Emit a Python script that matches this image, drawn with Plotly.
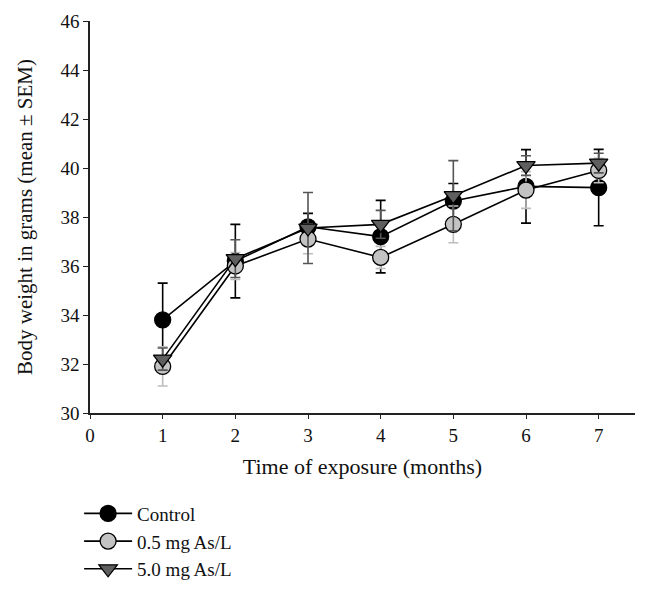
import plotly.graph_objects as go

months = [1, 2, 3, 4, 5, 6, 7]
series_names = ["Control", "0.5 mg As/L", "5.0 mg As/L"]
control_mean = [33.8, 36.2, 37.6, 37.2, 38.65, 39.25, 39.2]
control_sem = [1.5, 1.5, 0.55, 1.48, 0.72, 1.5, 1.56]
low_mean = [31.9, 36.0, 37.1, 36.35, 37.7, 39.1, 39.9]
low_sem = [0.8, 0.55, 0.6, 0.45, 0.75, 0.75, 0.5]
high_mean = [32.2, 36.3, 37.55, 37.7, 38.87, 40.1, 40.2]
high_sem = [0.45, 0.77, 1.45, 0.57, 1.43, 0.4, 0.4]
x_ticks = [0, 1, 2, 3, 4, 5, 6, 7]
y_ticks = [30, 32, 34, 36, 38, 40, 42, 44, 46]

FONT = "Liberation Serif"

styles = [
    dict(symbol="circle", fill="#000000", err="#000000", size=16),
    dict(symbol="circle", fill="#c3c3c3", err="#bdbdbd", size=16),
    dict(symbol="triangle-down", fill="#5f5f5f", err="#555555", size=16),
]
means = [control_mean, low_mean, high_mean]
sems = [control_sem, low_sem, high_sem]

fig = go.Figure()
for name, m, s, st in zip(series_names, means, sems, styles):
    fig.add_trace(go.Scatter(
        x=months, y=m, name=name, mode="lines+markers",
        line=dict(color="#000000", width=1.6),
        marker=dict(symbol=st["symbol"], size=st["size"], color=st["fill"],
                    line=dict(color="#000000", width=1.3)),
        error_y=dict(type="data", array=s, visible=True, color=st["err"],
                     thickness=1.6, width=5),
    ))

fig.update_layout(
    width=649, height=593,
    paper_bgcolor="white", plot_bgcolor="white",
    margin=dict(l=82, r=22, t=13, b=188),
    font=dict(family=FONT, size=19, color="#111111"),
    showlegend=True,
    legend=dict(x=-0.02, y=-0.208, xanchor="left", yanchor="top",
                itemwidth=48,
                font=dict(family=FONT, size=19, color="#111111"),
                bgcolor="rgba(0,0,0,0)", tracegroupgap=0),
    xaxis=dict(range=[0, 7.5], tickvals=x_ticks, ticks="outside", ticklen=4,
               tickcolor="#222222", showline=True, linecolor="#222222", linewidth=1.6,
               showgrid=False, zeroline=False,
               tickfont=dict(family=FONT, size=19),
               title=dict(text="Time of exposure (months)", standoff=14,
                          font=dict(family=FONT, size=22))),
    yaxis=dict(range=[30, 46], tickvals=y_ticks, ticks="outside", ticklen=5,
               tickcolor="#222222", showline=True, linecolor="#222222", linewidth=1.6,
               showgrid=False, zeroline=False, automargin="left",
               tickfont=dict(family=FONT, size=19),
               title=dict(text="Body weight in grams (mean ± SEM)", standoff=22,
                          font=dict(family=FONT, size=21))),
)

fig.write_html("out.html")
